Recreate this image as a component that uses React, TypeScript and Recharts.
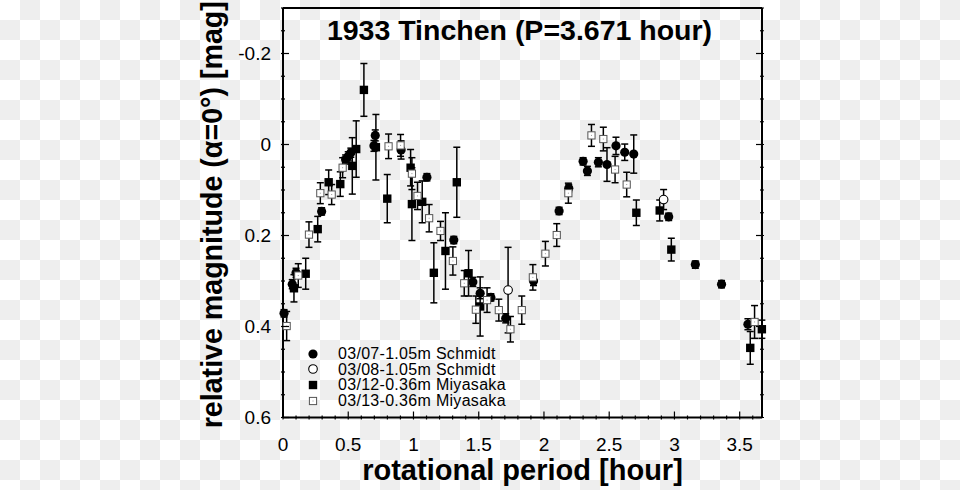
import { ScatterChart, Scatter, XAxis, YAxis, ErrorBar, Legend } from "recharts"

// [phase (hour), relative magnitude, error]
const night0307: number[][] = [
  [0.008, 0.371, 0.008], [0.071, 0.307, 0.01], [0.1, 0.282, 0.01], [0.296, 0.147, 0.008],
  [0.48, 0.033, 0.01], [0.5, 0.026, 0.01], [0.52, 0.018, 0.01], [0.697, 0.003, 0.012],
  [0.707, -0.02, 0.012], [0.905, 0.012, 0.02], [1.103, 0.072, 0.008], [1.309, 0.21, 0.008],
  [1.455, 0.302, 0.01], [1.511, 0.327, 0.012], [1.593, 0.336, 0.008], [1.707, 0.382, 0.01],
  [1.92, 0.3, 0.01], [2.116, 0.146, 0.008], [2.19, 0.096, 0.008], [2.3, 0.037, 0.008],
  [2.333, 0.058, 0.01], [2.417, 0.039, 0.01], [2.483, 0.044, 0.037], [2.552, 0.003, 0.019],
  [2.619, 0.017, 0.018], [2.688, 0.021, 0.042], [2.956, 0.159, 0.008], [3.16, 0.264, 0.008],
  [3.361, 0.307, 0.008], [3.563, 0.395, 0.012],
]
const night0308: number[][] = [
  [1.725, 0.32, 0.094], [2.917, 0.121, 0.022],
]
const night0312: number[][] = [
  [0.084, 0.316, 0.03], [0.174, 0.284, 0.034], [0.266, 0.186, 0.028], [0.35, 0.083, 0.027],
  [0.439, 0.087, 0.027], [0.531, 0.047, 0.062], [0.561, 0.01, 0.062], [0.62, -0.12, 0.058],
  [0.712, 0.006, 0.072], [0.799, 0.119, 0.053], [0.978, 0.051, 0.04], [0.988, 0.131, 0.08],
  [1.067, 0.126, 0.046], [1.156, 0.282, 0.066], [1.245, 0.234, 0.084], [1.332, 0.083, 0.077],
  [1.422, 0.283, 0.05], [1.511, 0.356, 0.065], [2.708, 0.15, 0.028], [2.887, 0.145, 0.023],
  [2.976, 0.231, 0.025], [3.581, 0.447, 0.036], [3.67, 0.406, 0.02],
]
const night0313: number[][] = [
  [0.028, 0.399, 0.032], [0.117, 0.288, 0.026], [0.199, 0.198, 0.028], [0.286, 0.107, 0.023],
  [0.373, 0.11, 0.022], [0.457, 0.051, 0.022], [0.809, 0.004, 0.027], [0.901, 0.002, 0.024],
  [0.988, 0.064, 0.035], [1.031, 0.113, 0.03], [1.12, 0.162, 0.03], [1.207, 0.19, 0.021],
  [1.302, 0.256, 0.031], [1.389, 0.305, 0.028], [1.478, 0.363, 0.03], [1.564, 0.342, 0.027],
  [1.654, 0.364, 0.024], [1.743, 0.406, 0.028], [1.83, 0.364, 0.031], [1.915, 0.292, 0.028],
  [2.011, 0.24, 0.027], [2.098, 0.199, 0.025], [2.187, 0.107, 0.022], [2.364, -0.02, 0.024],
  [2.455, -0.012, 0.026], [2.545, 0.055, 0.029], [2.634, 0.088, 0.027], [3.614, 0.39, 0.036],
]

const seriesNames = [
  "03/07-1.05m Schmidt",
  "03/08-1.05m Schmidt",
  "03/12-0.36m Miyasaka",
  "03/13-0.36m Miyasaka",
]

const xTicks = [
  0, 0.1, 0.2, 0.3, 0.4, 0.5, 0.6, 0.7, 0.8, 0.9, 1, 1.1, 1.2, 1.3, 1.4, 1.5, 1.6, 1.7, 1.8,
  1.9, 2, 2.1, 2.2, 2.3, 2.4, 2.5, 2.6, 2.7, 2.8, 2.9, 3, 3.1, 3.2, 3.3, 3.4, 3.5, 3.6,
]
const xMajor = [0, 0.5, 1, 1.5, 2, 2.5, 3, 3.5]
const yTicks = [
  -0.3, -0.25, -0.2, -0.15, -0.1, -0.05, 0, 0.05, 0.1, 0.15, 0.2, 0.25, 0.3, 0.35, 0.4,
  0.45, 0.5, 0.55, 0.6,
]
const yMajor = [-0.2, 0, 0.2, 0.4, 0.6]

const FONT = '"Liberation Sans", Arial, Helvetica, sans-serif'
const toPts = (rows: number[][]) => rows.map(([x, y, err]) => ({ x, y, err }))

function FilledCircle({ cx, cy }: any) {
  return <circle cx={cx} cy={cy} r={4.6} fill="#000" />
}
function OpenCircle({ cx, cy }: any) {
  return <circle cx={cx} cy={cy} r={4.3} fill="#fff" stroke="#000" strokeWidth={1.1} />
}
function FilledSquare({ cx, cy }: any) {
  return <rect x={cx - 4.2} y={cy - 4.2} width={8.4} height={8.4} fill="#000" />
}
function OpenSquare({ cx, cy }: any) {
  return (
    <g>
      <rect x={cx - 3.6} y={cy - 3.6} width={7.2} height={7.2} fill="#fff" stroke="#555" strokeWidth={1} />
      <rect x={cx - 0.5} y={cy - 0.5} width={1} height={1} fill="#999" />
    </g>
  )
}
const markers = [FilledCircle, OpenCircle, FilledSquare, OpenSquare]

const near = (v: number, list: number[]) => list.some((m) => Math.abs(m - v) < 1e-6)

function XTick({ x, y, payload, top }: any) {
  const major = near(payload.value, xMajor)
  const len = major ? 8 : 4
  return (
    <g>
      <line x1={x} x2={x} y1={y} y2={top ? y + len : y - len} stroke="#000" strokeWidth={1.2} />
      {major && !top && (
        <text x={x} y={y + 31} textAnchor="middle" fontSize={19} fontFamily={FONT} fill="#000">
          {String(payload.value)}
        </text>
      )}
    </g>
  )
}

function YTick({ x, y, payload, right }: any) {
  const major = near(payload.value, yMajor)
  const len = major ? 8 : 4
  return (
    <g>
      <line x1={x} x2={right ? x - len : x + len} y1={y} y2={y} stroke="#000" strokeWidth={1.2} />
      {major && !right && (
        <text x={x - 10} y={y} dy="0.36em" textAnchor="end" fontSize={19} fontFamily={FONT} fill="#000">
          {String(payload.value)}
        </text>
      )}
    </g>
  )
}

function LegendBox() {
  return (
    <div style={{ fontFamily: FONT, fontSize: 16, letterSpacing: 0.3, lineHeight: "15.6px", color: "#000" }}>
      {seriesNames.map((name, i) => {
        const M = markers[i]
        return (
          <div key={name} style={{ display: "flex", alignItems: "center", height: 15.6 }}>
            <svg width={30} height={14} style={{ marginRight: 10 }}>
              <M cx={15} cy={7} />
            </svg>
            <span>{name}</span>
          </div>
        )
      })}
    </div>
  )
}

const sets = [night0307, night0308, night0312, night0313]

export default function App() {
  return (
    <div
      style={{
        position: "absolute",
        left: 0,
        top: 0,
        width: 960,
        height: 490,
        background: "repeating-conic-gradient(#eeeeee 0 25%, #ffffff 0 50%) 0 0 / 40px 40px",
      }}
    >
      <div
        style={{
          position: "absolute",
          left: 280,
          width: 479,
          top: 14,
          textAlign: "center",
          fontFamily: FONT,
          fontWeight: "bold",
          fontSize: 28.5,
          lineHeight: "32px",
          color: "#000",
        }}
      >
        1933 Tinchen (P=3.671 hour)
      </div>
      <ScatterChart width={960} height={490} margin={{ top: 0, right: 0, bottom: 0, left: 0 }}>
        <XAxis
          xAxisId="b"
          orientation="bottom"
          type="number"
          dataKey="x"
          domain={[0, 3.671]}
          ticks={xTicks}
          interval={0}
          height={72.5}
          tickSize={0}
          tickLine={false}
          axisLine={{ stroke: "#000", strokeWidth: 2 }}
          tick={(p: any) => <XTick {...p} />}
          label={(p: any) => {
            const vb = p.viewBox
            return (
              <text
                x={vb.x + vb.width / 2}
                y={vb.y + 62}
                textAnchor="middle"
                fontFamily={FONT}
                fontWeight="bold"
                fontSize={29}
                fill="#000"
              >
                rotational period [hour]
              </text>
            )
          }}
        />
        <XAxis
          xAxisId="t"
          orientation="top"
          type="number"
          domain={[0, 3.671]}
          allowDataOverflow
          ticks={xTicks}
          interval={0}
          height={8}
          tickSize={0}
          tickLine={false}
          axisLine={{ stroke: "#000", strokeWidth: 2 }}
          tick={(p: any) => <XTick {...p} top />}
        />
        <YAxis
          yAxisId="l"
          orientation="left"
          type="number"
          dataKey="y"
          domain={[-0.3, 0.6]}
          reversed
          ticks={yTicks}
          interval={0}
          width={283}
          tickSize={0}
          tickLine={false}
          axisLine={{ stroke: "#000", strokeWidth: 2 }}
          tick={(p: any) => <YTick {...p} />}
          label={(p: any) => {
            const vb = p.viewBox
            const cx = vb.x + 212
            const cy = vb.y + vb.height / 2 + 2
            return (
              <text
                x={cx}
                y={cy}
                transform={`rotate(-90 ${cx} ${cy})`}
                textAnchor="middle"
                dominantBaseline="central"
                fontFamily={FONT}
                fontWeight="bold"
                fontSize={28.6}
                fill="#000"
              >
                relative magnitude (α=0°) [mag]
              </text>
            )
          }}
        />
        <YAxis
          yAxisId="r"
          orientation="right"
          type="number"
          domain={[-0.3, 0.6]}
          allowDataOverflow
          reversed
          ticks={yTicks}
          interval={0}
          width={198}
          tickSize={0}
          tickLine={false}
          axisLine={{ stroke: "#000", strokeWidth: 2 }}
          tick={(p: any) => <YTick {...p} right />}
        />
        <Legend
          layout="horizontal"
          verticalAlign="middle"
          align="center"
          wrapperStyle={{ left: 298, top: 346, width: 240 }}
          content={() => <LegendBox />}
        />
        {sets.map((rows, i) => {
          const M = markers[i]
          return (
            <Scatter
              key={seriesNames[i]}
              name={seriesNames[i]}
              data={toPts(rows)}
              xAxisId="b"
              yAxisId="l"
              shape={(p: any) => <M cx={p.cx} cy={p.cy} />}
              isAnimationActive={false}
            >
              <ErrorBar dataKey="err" direction="y" width={3.5} stroke="#000" strokeWidth={1.5} />
            </Scatter>
          )
        })}
      </ScatterChart>
    </div>
  )
}
